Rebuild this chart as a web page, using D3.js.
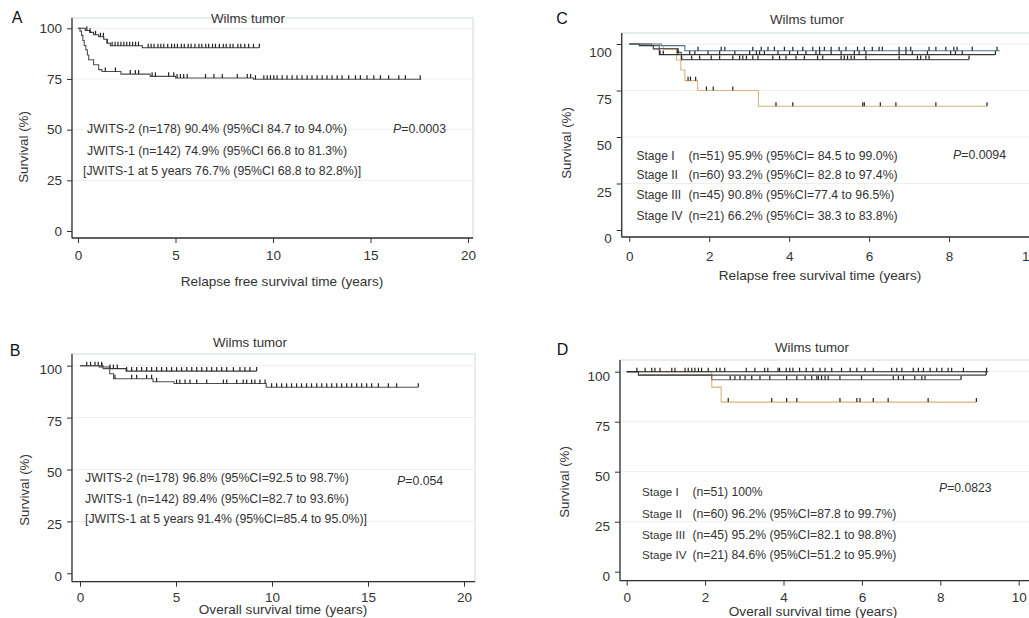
<!DOCTYPE html>
<html>
<head>
<meta charset="utf-8">
<script src="https://cdn.jsdelivr.net/npm/d3@7"></script>
<style>
  body { margin: 0; background: #fff; }
  svg { font-family: "Liberation Sans", Arial, sans-serif; }
</style>
</head>
<body>
<svg id="chart" width="1029" height="618"></svg>
<script>
// axis ticks
const yTicks = [0, 25, 50, 75, 100];
const xTicksLong = [0, 5, 10, 15, 20];
const xTicksShort = [0, 2, 4, 6, 8, 10];

// A: relapse free survival, JWITS-2 vs JWITS-1  ([time, survival %])
const rfsJ2Steps = [[0, 100], [0.37, 98.9], [0.6, 98.0], [0.8, 96.8], [1.06, 95.8], [1.32, 94.6], [1.49, 92.6], [1.66, 91.4], [3.3, 90.4]];
const rfsJ2End = 9.3;
const rfsJ2Censor = [0.45, 0.62, 0.9, 1.15, 1.3, 1.5, 1.75, 1.9, 2.05, 2.2, 2.35, 2.5, 2.65, 2.8, 2.95, 3.1, 3.6, 3.75, 3.9, 4.1, 4.25, 4.4, 4.6, 4.8, 4.95, 5.1, 5.3, 5.45, 5.65, 5.8, 6.0, 6.2, 6.35, 6.55, 6.7, 6.9, 7.05, 7.25, 7.45, 7.6, 7.8, 7.95, 8.2, 8.35, 8.55, 8.75, 9.0, 9.3];
const rfsJ1Steps = [[0, 100], [0.1, 98.6], [0.18, 96.5], [0.25, 94.0], [0.32, 91.5], [0.4, 89.4], [0.48, 86.8], [0.55, 84.5], [0.8, 82.0], [1.06, 79.6], [1.23, 78.7], [2.2, 77.4], [3.7, 76.3], [5.0, 75.5], [9.0, 74.9]];
const rfsJ1End = 17.6;
const rfsJ1Censor = [1.4, 1.92, 2.68, 2.94, 3.11, 3.8, 3.97, 4.65, 4.91, 5.08, 5.25, 5.42, 5.6, 6.54, 6.97, 7.4, 8.17, 8.68, 8.85, 9.1, 9.53, 9.7, 9.87, 10.04, 10.21, 10.47, 10.72, 10.98, 11.23, 11.49, 11.75, 12.0, 12.26, 12.52, 12.77, 13.03, 13.29, 13.54, 13.88, 14.23, 14.48, 14.82, 15.17, 15.51, 15.93, 16.45, 16.79, 17.55];

// B: overall survival, JWITS-2 vs JWITS-1
const osJ2Steps = [[0, 100], [1.0, 99.4], [1.55, 98.6], [2.4, 97.4]];
const osJ2End = 9.2;
const osJ2Censor = [0.35, 0.55, 0.78, 0.95, 1.13, 1.56, 1.74, 1.94, 2.43, 2.69, 2.95, 3.21, 3.47, 3.73, 3.99, 4.25, 4.51, 4.77, 5.03, 5.29, 5.56, 5.82, 6.08, 6.34, 6.6, 6.86, 7.12, 7.38, 7.64, 7.99, 8.33, 8.59, 8.85, 9.2];
const osJ1Steps = [[0, 100], [1.2, 98.6], [1.55, 96.1], [1.75, 93.7], [3.8, 92.3], [4.9, 91.4], [9.7, 89.6]];
const osJ1End = 17.6;
const osJ1Censor = [1.13, 1.82, 2.69, 2.95, 3.47, 3.73, 3.99, 5.03, 5.2, 5.47, 5.73, 6.08, 6.6, 7.47, 7.64, 8.16, 8.5, 8.68, 8.94, 9.11, 9.37, 9.64, 9.98, 10.24, 10.5, 10.76, 11.02, 11.28, 11.54, 11.8, 12.06, 12.33, 12.59, 12.85, 13.11, 13.37, 13.63, 13.89, 14.15, 14.41, 14.67, 14.93, 15.19, 15.54, 16.06, 16.49, 17.62];

// C: relapse free survival by stage
const rfsS1Steps = [[0, 100], [0.8, 99.1], [1.39, 96.4]];
const rfsS1End = 9.27;
const rfsS1Censor = [1.72, 2.3, 2.39, 3.09, 3.3, 3.47, 3.63, 3.88, 4.09, 4.34, 4.59, 4.76, 4.88, 5.05, 5.25, 5.42, 5.71, 5.88, 6.08, 6.25, 6.33, 6.75, 6.92, 7.04, 7.5, 7.67, 7.92, 8.12, 8.2, 8.58, 9.2];
const rfsS2Steps = [[0, 100], [0.25, 99.1], [0.6, 97.4], [0.75, 94.3]];
const rfsS2End = 9.16;
const rfsS2Censor = [0.77, 0.85, 1.22, 1.51, 1.64, 1.97, 2.26, 2.64, 3.01, 3.18, 3.26, 3.38, 3.72, 4.01, 4.21, 4.42, 4.67, 4.76, 5.05, 5.3, 5.63, 5.75, 5.92, 6.75, 6.92, 7.08, 7.46, 8.04, 8.16, 8.33, 9.16];
const rfsS3Steps = [[0, 100], [0.55, 99.1], [0.75, 97.5], [1.2, 95.5], [1.3, 91.6]];
const rfsS3End = 8.5;
const rfsS3Censor = [1.22, 1.31, 1.56, 1.76, 2.05, 2.26, 2.59, 2.76, 2.84, 2.93, 3.09, 3.22, 3.59, 3.76, 3.92, 4.17, 4.38, 4.71, 4.84, 5.3, 5.38, 5.46, 5.55, 5.63, 5.92, 6.75, 7.21, 7.29, 7.42, 7.5, 8.5];
const rfsS4Steps = [[0, 100], [0.4, 99.2], [0.85, 97.2], [1.18, 91.4], [1.29, 86.0], [1.39, 80.3], [1.71, 75.0], [3.23, 66.5]];
const rfsS4End = 8.95;
const rfsS4Censor = [1.47, 1.53, 1.66, 1.93, 2.1, 2.59, 3.67, 4.09, 5.84, 5.88, 6.28, 6.67, 7.67, 8.95];

// D: overall survival by stage
const osS1Steps = [[0, 100]];
const osS1End = 9.22;
const osS1Censor = [0.26, 0.47, 0.64, 0.72, 0.85, 1.15, 1.23, 1.49, 1.57, 1.66, 1.74, 1.83, 1.91, 2.08, 2.29, 2.38, 2.5, 3.05, 3.27, 3.52, 3.6, 3.86, 3.9, 4.07, 4.16, 4.24, 4.41, 4.58, 4.75, 4.93, 5.06, 5.23, 5.48, 5.7, 5.87, 6.08, 6.29, 6.76, 6.89, 7.02, 7.31, 7.44, 7.57, 7.74, 7.91, 8.04, 8.2, 8.29, 8.59, 9.18];
const osS2Steps = [[0, 100], [0.3, 98.3]];
const osS2End = 9.17;
const osS2Censor = [9.17];
const osS3Steps = [[0, 100], [0.3, 98.3], [2.17, 96.0]];
const osS3End = 8.53;
const osS3Censor = [2.64, 2.76, 2.89, 3.02, 3.19, 3.4, 3.65, 4.08, 4.34, 4.55, 4.72, 4.85, 4.89, 4.97, 5.06, 5.14, 5.44, 5.99, 6.8, 6.93, 7.06, 7.35, 7.53, 7.61, 8.53];
const osS4Steps = [[0, 100], [2.17, 92.3], [2.41, 84.8]];
const osS4End = 8.92;
const osS4Censor = [2.59, 3.7, 4.08, 4.34, 5.44, 5.87, 5.95, 6.29, 6.67, 7.69, 8.92];

// annotation text
const notesA = ["JWITS-2 (n=178) 90.4% (95%CI 84.7 to 94.0%)", "JWITS-1 (n=142) 74.9% (95%CI 66.8 to 81.3%)", "[JWITS-1 at 5 years 76.7% (95%CI 68.8 to 82.8%)]"];
const notesB = ["JWITS-2 (n=178) 96.8% (95%CI=92.5 to 98.7%)", "JWITS-1 (n=142) 89.4% (95%CI=82.7 to 93.6%)", "[JWITS-1 at 5 years 91.4% (95%CI=85.4 to 95.0%)]"];
const stageNames = ["Stage I", "Stage II", "Stage III", "Stage IV"];
const notesC = ["(n=51) 95.9% (95%CI= 84.5 to 99.0%)", "(n=60) 93.2% (95%CI= 82.8 to 97.4%)", "(n=45) 90.8% (95%CI=77.4 to 96.5%)", "(n=21) 66.2% (95%CI= 38.3 to 83.8%)"];
const notesD = ["(n=51) 100%", "(n=60) 96.2% (95%CI=87.8 to 99.7%)", "(n=45) 95.2% (95%CI=82.1 to 98.8%)", "(n=21) 84.6% (95%CI=51.2 to 95.9%)"];
const pValues = ["0.0003", "0.054", "0.0094", "0.0823"];

const svg = d3.select("#chart");
const textColor = "#333";

function survAt(steps, t) {
    let s = steps[0][1];
    steps.forEach(d => { if (d[0] <= t) s = d[1]; });
    return s;
}

function makePanel(p) {
    const g = svg.append("g");
    const x = d3.scaleLinear().domain(p.xDomain).range(p.xRange);
    const y = d3.scaleLinear().domain([0, 100]).range(p.yRange);

    // plot region outline
    g.append("rect")
        .attr("x", p.frame[0]).attr("y", p.frame[1])
        .attr("width", p.frame[2] - p.frame[0]).attr("height", p.frame[3] - p.frame[1])
        .attr("fill", "none").attr("stroke", "#e6edf0").attr("stroke-width", 2);

    // grid
    g.selectAll(".grid").data(yTicks.filter(d => d > 0)).join("line")
        .attr("x1", p.frame[0]).attr("x2", p.frame[2])
        .attr("y1", d => y(d)).attr("y2", d => y(d))
        .attr("stroke", "#eeeeee").attr("stroke-width", 1);

    // y axis
    const ya = g.append("g")
        .attr("transform", `translate(${p.frame[0]},0)`)
        .call(d3.axisLeft(y).tickValues(yTicks).tickSize(5).tickPadding(5).tickSizeOuter(0));
    ya.select(".domain").attr("d", `M0,${p.frame[1]}V${p.frame[3]}`).attr("stroke", "#333").attr("stroke-width", 1.3);
    ya.selectAll(".tick line").attr("stroke", "#333");
    ya.selectAll(".tick text").attr("font-size", 13.5).attr("fill", textColor).attr("dy", p.yLabelDy)
        .attr("font-family", "Liberation Sans, Arial, sans-serif");

    // x axis
    const xa = g.append("g")
        .attr("transform", `translate(0,${p.frame[3]})`)
        .call(d3.axisBottom(x).tickValues(p.xTicks).tickSize(5).tickPadding(p.xPad).tickSizeOuter(0));
    xa.select(".domain").attr("d", `M${p.frame[0]},0H${p.frame[2]}`).attr("stroke", "#333").attr("stroke-width", 1.3);
    xa.selectAll(".tick line").attr("stroke", "#333");
    xa.selectAll(".tick text").attr("font-size", 13.5).attr("fill", textColor)
        .attr("font-family", "Liberation Sans, Arial, sans-serif");

    // curves
    const line = d3.line().x(d => x(d[0])).y(d => y(d[1])).curve(d3.curveStepAfter);
    p.curves.forEach(c => {
        const pts = c.steps.concat([[c.end, c.steps[c.steps.length - 1][1]]]);
        g.append("path").attr("d", line(pts))
            .attr("fill", "none").attr("stroke", c.color).attr("stroke-width", 1.1);
        g.selectAll(null).data(c.censor).join("line")
            .attr("x1", d => x(d)).attr("x2", d => x(d))
            .attr("y1", d => y(survAt(c.steps, d)))
            .attr("y2", d => y(survAt(c.steps, d)) - 4)
            .attr("stroke", c.tickColor || "#222").attr("stroke-width", 1.2);
    });

    // titles and labels
    g.append("text").attr("x", p.title[0]).attr("y", p.title[1])
        .attr("text-anchor", "middle").attr("dominant-baseline", "middle")
        .attr("font-size", 13.3).attr("fill", textColor).text("Wilms tumor");
    g.append("text").attr("x", p.letter[0]).attr("y", p.letter[1])
        .attr("text-anchor", "middle").attr("dominant-baseline", "middle")
        .attr("font-size", 16).attr("fill", "#111").text(p.name);
    g.append("text").attr("x", p.xLabel[0]).attr("y", p.xLabel[1])
        .attr("text-anchor", "middle").attr("dominant-baseline", "middle")
        .attr("font-size", 13.6).attr("fill", textColor).text(p.xTitle);
    g.append("text")
        .attr("transform", `translate(${p.yLabel[0]},${p.yLabel[1]}) rotate(-90)`)
        .attr("text-anchor", "middle").attr("dominant-baseline", "middle")
        .attr("font-size", 13.3).attr("fill", textColor).text("Survival (%)");

    // notes
    p.notes.forEach((n, i) => {
        if (n.stage) {
            g.append("text").attr("x", p.noteX[0]).attr("y", p.noteY[i])
                .attr("dominant-baseline", "middle").attr("font-size", p.stageSize)
                .attr("fill", textColor).text(n.stage);
        }
        g.append("text").attr("x", n.stage ? p.noteX[1] : p.noteX[i]).attr("y", p.noteY[i])
            .attr("dominant-baseline", "middle").attr("font-size", p.noteSize)
            .attr("fill", textColor).text(n.text);
    });
    const pt = g.append("text").attr("x", p.pPos[0]).attr("y", p.pPos[1])
        .attr("dominant-baseline", "middle").attr("font-size", p.noteSize).attr("fill", textColor);
    pt.append("tspan").attr("font-style", "italic").text("P");
    pt.append("tspan").text("=" + p.pValue);
}

makePanel({
    name: "A", xDomain: [0, 20], xRange: [78, 468], yRange: [231, 28.3],
    frame: [72, 18, 473, 238], xTicks: xTicksLong, xPad: 7, yLabelDy: "0.32em",
    title: [248, 19], letter: [17, 19], xLabel: [282, 282], yLabel: [24, 147],
    xTitle: "Relapse free survival time (years)",
    curves: [
        { steps: rfsJ2Steps, end: rfsJ2End, censor: rfsJ2Censor, color: "#3a3a3a" },
        { steps: rfsJ1Steps, end: rfsJ1End, censor: rfsJ1Censor, color: "#4a4f52" }
    ],
    notes: notesA.map(t => ({ text: t })), noteX: [87, 87, 83], noteY: [130, 152, 172], noteSize: 12.3,
    pPos: [393, 130], pValue: pValues[0]
});

makePanel({
    name: "B", xDomain: [0, 20], xRange: [80, 464], yRange: [573.3, 365.7],
    frame: [72, 354, 475, 581.7], xTicks: xTicksLong, xPad: 6, yLabelDy: "0.55em",
    title: [250, 343], letter: [15, 352], xLabel: [283, 610.5], yLabel: [25, 490],
    xTitle: "Overall survival time (years)",
    curves: [
        { steps: osJ2Steps, end: osJ2End, censor: osJ2Censor, color: "#3a3a3a" },
        { steps: osJ1Steps, end: osJ1End, censor: osJ1Censor, color: "#4a4f52" }
    ],
    notes: notesB.map(t => ({ text: t })), noteX: [85, 85, 85], noteY: [479, 500, 520], noteSize: 12.3,
    pPos: [397, 482], pValue: pValues[1]
});

makePanel({
    name: "C", xDomain: [0, 10], xRange: [629.3, 1029], yRange: [230, 44],
    frame: [621.7, 33, 1040, 237], xTicks: xTicksShort, xPad: 9, yLabelDy: "0.95em",
    title: [807, 20], letter: [562, 20], xLabel: [820, 276], yLabel: [567, 143],
    xTitle: "Relapse free survival time (years)",
    curves: [
        { steps: rfsS4Steps, end: rfsS4End, censor: rfsS4Censor, color: "#d8b47c" },
        { steps: rfsS3Steps, end: rfsS3End, censor: rfsS3Censor, color: "#5e5a55" },
        { steps: rfsS2Steps, end: rfsS2End, censor: rfsS2Censor, color: "#3a3a3a" },
        { steps: rfsS1Steps, end: rfsS1End, censor: rfsS1Censor, color: "#54768a" }
    ],
    notes: notesC.map((t, i) => ({ stage: stageNames[i], text: t })),
    noteX: [636.5, 688.5], noteY: [157, 176, 196, 217], noteSize: 12.3, stageSize: 12,
    pPos: [953, 156], pValue: pValues[2]
});

makePanel({
    name: "D", xDomain: [0, 10], xRange: [626.7, 1018.7], yRange: [571.7, 371.7],
    frame: [620, 360, 1040, 580.7], xTicks: xTicksShort, xPad: 7, yLabelDy: "0.62em",
    title: [812, 348], letter: [562.5, 351], xLabel: [813, 612], yLabel: [565, 482],
    xTitle: "Overall survival time (years)",
    curves: [
        { steps: osS4Steps, end: osS4End, censor: osS4Censor, color: "#d8b47c" },
        { steps: osS3Steps, end: osS3End, censor: osS3Censor, color: "#6a6a6a" },
        { steps: osS2Steps, end: osS2End, censor: osS2Censor, color: "#444" },
        { steps: osS1Steps, end: osS1End, censor: osS1Censor, color: "#222" }
    ],
    notes: notesD.map((t, i) => ({ stage: stageNames[i], text: t })),
    noteX: [642, 692.5], noteY: [493, 515, 536, 556], noteSize: 12.2, stageSize: 11.6,
    pPos: [939, 489], pValue: pValues[3]
});
</script>
</body>
</html>
